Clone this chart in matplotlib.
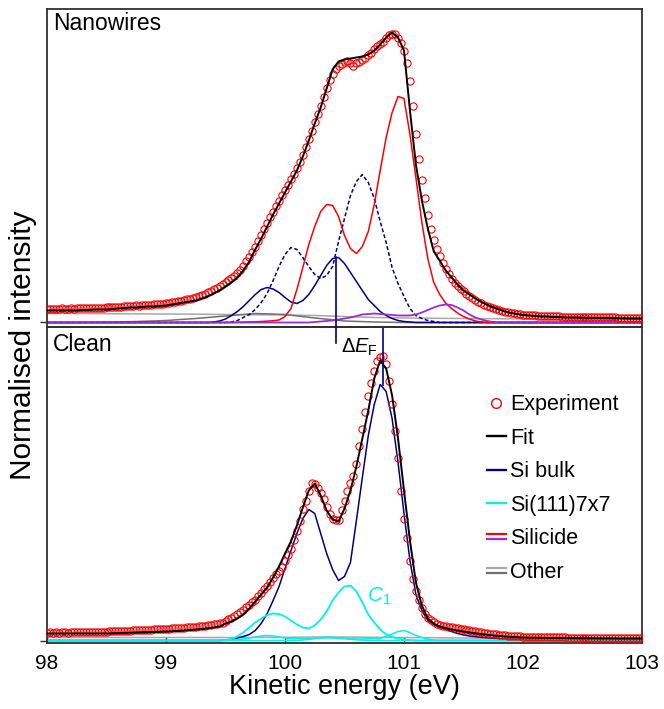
import numpy as np
import matplotlib
matplotlib.use("Agg")
import matplotlib.pyplot as plt
from matplotlib.lines import Line2D
from matplotlib.legend_handler import HandlerBase

plt.rcParams['font.family'] = ['Liberation Sans', 'DejaVu Sans']
plt.rcParams['mathtext.fontset'] = 'custom'
plt.rcParams['mathtext.rm'] = 'Liberation Sans'
plt.rcParams['mathtext.it'] = 'Liberation Sans:italic'

# --- data (intensities in arbitrary units, baseline = 0) ---
# experiment sampled every 0.025 eV from 98 to 103 eV
nw_experiment = [
    13.5, 13.8, 13.6, 13.9, 13.7, 14.0, 13.8, 13.9, 14.1, 13.9, 14.2, 14.0, 14.3, 14.1, 14.4, 14.6, 14.4, 14.7, 14.9, 14.8,
    15.0, 15.3, 15.2, 15.6, 15.8, 15.7, 16.1, 16.4, 16.2, 16.7, 17.0, 16.9, 17.3, 17.6, 17.5, 17.9, 18.2, 18.1, 18.5, 18.8,
    19.0, 19.5, 20.0, 20.6, 21.2, 21.8, 22.4, 23.0, 23.8, 24.6, 25.5, 26.4, 27.5, 28.6, 30.0, 31.5, 33.0, 34.6, 36.4, 38.0,
    40.0, 42.0, 44.0, 46.5, 49.0, 52.5, 56.5, 61.0, 65.0, 70.0, 75.5, 81.0, 87.0, 93.0, 99.0, 105.0, 110.5, 116.0, 121.5, 127.0,
    132, 137.5, 143, 148, 154, 160, 167, 175, 183, 191.5, 200, 208, 216.5, 225, 234, 242, 248, 253, 257, 259,
    261, 262, 260, 257, 260, 261, 263, 265, 268, 270, 274, 277, 279, 281, 285, 288, 289, 289, 285, 280,
    272, 260, 241, 216, 188, 163, 142, 124, 107, 93, 82, 73, 66, 59, 53, 48, 43, 39, 36, 33,
    31, 28, 26, 24, 22, 20, 19, 17, 16, 15, 14, 13, 12, 11.2, 10.6, 10, 9.5, 9, 8.6, 8.2,
    7.9, 7.6, 7.4, 7.2, 7.0, 6.8, 6.7, 6.5, 6.4, 6.3, 6.2, 6.1, 6.0, 5.9, 5.8, 5.8, 5.7, 5.6, 5.6, 5.5,
    5.5, 5.4, 5.4, 5.3, 5.3, 5.2, 5.2, 5.1, 5.1, 5.0, 5.0, 5.0, 4.9, 4.9, 4.9, 4.8, 4.8, 4.8, 4.7, 4.7, 4.7,
]
clean_experiment = [
    8.0, 8.1, 7.9, 8.2, 8.0, 8.1, 8.3, 8.0, 8.2, 8.4, 8.1, 8.3, 8.5, 8.2, 8.4, 8.6, 8.4, 8.7, 8.9, 8.7,
    9.0, 9.2, 9.1, 9.4, 9.6, 9.5, 9.8, 10.0, 9.9, 10.2, 10.4, 10.3, 10.6, 10.8, 10.7, 11.0, 11.2, 11.1, 11.4, 11.6,
    11.8, 12.0, 12.1, 12.4, 12.6, 12.8, 13.0, 13.3, 13.5, 13.8, 14.0, 14.3, 14.6, 14.9, 15.3, 15.7, 16.1, 16.6, 17.1, 17.7,
    20, 21.5, 23, 25, 27, 29, 31, 33.5, 36, 38.5, 41, 44.5, 48, 51.5, 55, 59, 63, 66.5, 70, 74,
    80, 86, 92, 101, 110, 120, 132, 140, 150, 158, 157, 153, 148, 142, 134, 127, 122, 121, 121, 131,
    140, 150, 158, 165, 177, 195, 212, 229, 245, 258, 270, 280, 284, 285, 277, 260, 237, 210, 183, 150,
    122, 103, 80, 62, 50, 41, 33, 27, 23, 21, 19, 17, 16, 15, 14.5, 14, 13.5, 13, 12.5, 12,
    11.5, 11, 10.5, 10, 9.5, 9, 8.5, 8, 7.5, 7, 6.7, 6.3, 6, 5.6, 5.3, 5, 4.8, 4.6, 4.4, 4.2,
    4.0, 3.9, 3.8, 3.7, 3.6, 3.5, 3.5, 3.4, 3.4, 3.3, 3.3, 3.2, 3.2, 3.1, 3.1, 3.0, 3.0, 3.0, 2.9, 2.9,
    2.9, 2.8, 2.8, 2.8, 2.8, 2.7, 2.7, 2.7, 2.7, 2.6, 2.6, 2.6, 2.6, 2.6, 2.5, 2.5, 2.5, 2.5, 2.5, 2.5, 2.5,
]

# fits sampled every 0.05 eV from 98 to 103 eV
nw_fit = [
    12, 12, 12, 12, 12, 12, 12.5, 12.5, 13, 13,
    13, 13.5, 14, 14.5, 15, 15, 15.5, 16, 16, 16.5,
    17, 18, 19, 20, 21, 22, 24, 26, 29, 32,
    36, 40, 45, 52, 61, 73, 84, 96, 108, 119,
    130, 141, 152, 166, 182, 199, 215, 234, 253, 261,
    263, 264, 265, 266, 268, 272, 278, 285, 290, 285,
    272, 212, 158, 122, 94, 71, 62, 52, 45, 38,
    32, 28, 24, 20.5, 17.5, 15, 13, 11, 9.5, 8.5,
    7.5, 7, 6.5, 6, 6, 5.5, 5.5, 5, 5, 5,
    4.8, 4.7, 4.6, 4.5, 4.4, 4.3, 4.2, 4.1, 4.0, 4.0, 4.0,
]
clean_fit = [
    7, 7, 7, 7, 7, 7, 7, 7, 7, 7,
    7, 7.2, 7.4, 7.6, 7.8, 8, 8.2, 8.4, 8.6, 8.8,
    9, 9.3, 9.6, 10, 10.5, 11, 11.5, 12.2, 13, 14,
    17, 19, 22, 26, 32, 39, 46, 53, 63, 74,
    87, 99, 115, 133, 150, 157, 145, 130, 121, 119,
    132, 150, 174, 202, 230, 262, 280, 272, 245, 202,
    150, 100, 58, 35, 22, 17, 14, 12.5, 11, 10,
    9, 8, 7.2, 6.4, 5.7, 5, 4.5, 4, 3.6, 3.3,
    3.0, 2.9, 2.8, 2.7, 2.6, 2.5, 2.4, 2.4, 2.3, 2.3,
    2.2, 2.2, 2.2, 2.1, 2.1, 2.1, 2.0, 2.0, 2.0, 2.0, 2.0,
]

# fit components on the 0.05 eV grid, (start energy, values), zero elsewhere
nw_si_bulk_a = (99.40, [0.5, 1.5, 3.5, 7, 11, 16, 22, 28, 33, 35, 33.5, 30, 25, 20.5, 19, 22, 28, 37, 47, 57,
                        64, 65, 59, 50, 41, 32, 23, 17, 11, 7, 4, 2, 1, 0.5])
nw_si_bulk_b = (99.50, [0, 0.5, 2, 5, 8, 13, 20, 29, 42, 56, 68, 75, 73, 65, 56, 48, 44, 47, 56, 81,
                        104, 127, 141, 148, 140, 124, 101, 80, 55, 39, 26, 14, 7, 4, 2, 1, 0])
nw_silicide_a = (99.60, [0.2, 0.4, 0.6, 0.8, 1, 1.3, 1.8, 2.5, 6, 14, 33, 55, 78, 96, 111, 118, 117, 106, 87, 74,
                         69, 76, 91, 118, 152, 185, 210, 226, 224, 188, 145, 100, 64, 40, 28, 19.5, 14, 9.5, 6, 3.5,
                         1.5, 0.5])
nw_silicide_b = (100.20, [0, 0.5, 1, 1.5, 2, 3, 4, 5, 6.5, 8, 8.5, 9, 8.5, 8, 7.5, 7, 7, 7, 8, 10,
                          12.5, 15, 17, 18, 17.5, 15, 12, 8, 5, 3, 1.5, 0.5, 0])

clean_si_bulk = (99.50, [0.5, 1, 2.5, 4, 6, 10, 17, 27, 40, 54, 72, 90, 107, 122, 131, 127, 107, 87, 71, 60,
                         64, 78, 120, 163, 205, 236, 256, 249, 222, 178, 127, 80, 46, 30, 20, 16, 13, 11, 9, 7,
                         5.5, 4.5, 3.8, 3.2, 2.7, 2.2, 1.8, 1.5, 1.2, 1.0, 0.8, 0.6, 0.5, 0.4, 0.3])
clean_c1 = (99.50, [0.5, 1.5, 4, 8, 13, 18, 22, 25.5, 27, 26.5, 24, 20, 16, 13, 12, 15, 21, 29, 40, 48,
                    54, 55, 49, 38, 26, 18, 11, 6, 3.5, 2, 1, 0.5])
clean_s2 = (99.50, [0, 0.3, 0.8, 1.5, 2.5, 3.5, 4.5, 5, 4.5, 3.5, 2.5, 2, 1.8, 1.8, 2, 2.3, 2.5, 2.6, 2.5, 2.2,
                    1.7, 1.2, 0.7, 0.4, 0.2, 0])
clean_s3 = (100.10, [0, 0.5, 1, 2, 2.8, 3.2, 3.2, 2.8, 2.2, 1.8, 1.5, 1.5, 1.8, 2.2, 2, 4, 6.5, 9, 10, 8,
                     5, 3, 1.5, 0.5, 0])

# broad background ("Other") sampled every 0.25 eV from 98 to 103 eV
nw_other_a = [9, 9, 8.8, 8.6, 8.5, 8.3, 8, 7.8, 7.5, 7, 6, 5, 4.5, 4.2, 4, 3.8, 3.6, 3.4, 3.2, 3.1, 3]
nw_other_b = [0, 0, 0.3, 1, 2, 4, 6.5, 9, 8, 4.5, 1.5, 0.5, 0, 0, 0, 0, 0, 0, 0, 0, 0]
clean_other = [3, 3, 3, 3, 3, 3, 3, 3, 3.2, 3.5, 3.5, 3.2, 3, 2.8, 2.5, 2.2, 2, 1.8, 1.7, 1.6, 1.5]

# Fermi-level shift markers (eV)
ef_nanowires = 100.43
ef_clean = 100.82

energy_exp = 98 + 0.025 * np.arange(len(nw_experiment))
energy_fit = 98 + 0.05 * np.arange(len(nw_fit))
energy_bg = 98 + 0.25 * np.arange(len(nw_other_a))


def on_grid(comp):
    """Place a (start, values) component on the full 0.05 eV grid."""
    start, vals = comp
    out = np.zeros(len(energy_fit))
    i0 = int(round((start - 98) / 0.05))
    out[i0:i0 + len(vals)] = vals
    return out


NAVY = '#000080'
RED = '#FF0000'
PURPLE = '#9A2BD6'
CYAN = '#00F0F0'
GREY_L = '#A8A8A8'
GREY_D = '#707070'


class HandlerDoubleLine(HandlerBase):
    """Legend handle with two stacked short lines."""
    def __init__(self, upper, lower, gap=1.8):
        super().__init__()
        self.upper, self.lower, self.gap = upper, lower, gap

    def create_artists(self, legend, orig_handle, xdescent, ydescent, width, height, fontsize, trans):
        y = (height - ydescent) / 2
        x0, x1 = -xdescent, width - xdescent
        a = Line2D([x0, x1], [y + self.gap, y + self.gap], color=self.upper, lw=1.6, transform=trans)
        b = Line2D([x0, x1], [y - self.gap, y - self.gap], color=self.lower, lw=1.6, transform=trans)
        return [a, b]


fig = plt.figure(figsize=(6.64, 7.09), dpi=100)
left, right = 47 / 664, 642 / 664
ax_top = fig.add_axes([left, 1 - 327 / 709, right - left, 318 / 709])
ax_bot = fig.add_axes([left, 1 - 643 / 709, right - left, 316 / 709], sharex=ax_top)
# top panel drawn above the lower one so its marker line can cross the divider
ax_top.set_zorder(3)
ax_top.patch.set_visible(False)

lw_c = 1.1
# Nanowires
ax_top.plot(energy_bg, nw_other_a, color=GREY_L, lw=lw_c, zorder=2)
ax_top.plot(energy_bg, nw_other_b, color=GREY_D, lw=lw_c, zorder=2)
ax_top.plot(energy_fit, on_grid(nw_si_bulk_a), color=NAVY, lw=lw_c, zorder=2)
ax_top.plot(energy_fit, on_grid(nw_si_bulk_b), color=NAVY, lw=lw_c, ls=(0, (2.5, 1.5)), zorder=2)
ax_top.plot(energy_fit, on_grid(nw_silicide_a), color=RED, lw=lw_c, zorder=2)
ax_top.plot(energy_fit, on_grid(nw_silicide_b), color=PURPLE, lw=1.3, zorder=2.5)
ax_top.plot(energy_exp, nw_experiment, ls='none', marker='o', ms=5.2, mfc='none', mec=RED, mew=0.8, zorder=3)
ax_top.plot(energy_fit, nw_fit, color='black', lw=1.4, zorder=4)
ax_top.plot([ef_nanowires, ef_nanowires], [-21, max(nw_si_bulk_a[1])], color=NAVY, lw=1.2,
            clip_on=False, zorder=5)

# Clean
ax_bot.plot(energy_bg, clean_other, color=GREY_L, lw=lw_c, zorder=2)
ax_bot.plot(energy_fit, on_grid(clean_si_bulk), color=NAVY, lw=lw_c, zorder=2)
ax_bot.plot(energy_fit, on_grid(clean_s2), color=CYAN, lw=lw_c, zorder=2.5)
ax_bot.plot(energy_fit, on_grid(clean_s3), color=CYAN, lw=lw_c, zorder=2.5)
ax_bot.plot(energy_fit, on_grid(clean_c1), color=CYAN, lw=1.3, zorder=2.5)
ax_bot.plot(energy_exp, clean_experiment, ls='none', marker='o', ms=5.2, mfc='none', mec=RED, mew=0.8, zorder=3)
ax_bot.plot(energy_fit, clean_fit, color='black', lw=1.4, zorder=4)
ax_bot.plot([ef_clean, ef_clean], [max(clean_si_bulk[1]), 313], color=NAVY, lw=1.2, zorder=5)

ax_bot.text(100.47, 293, r'$\Delta E_{\mathrm{F}}$', fontsize=14.5, ha='left', va='center')
ax_bot.text(100.69, 44, r'$C_1$', fontsize=15, color=CYAN, ha='left', va='center')

ax_top.text(0.01, 0.953, 'Nanowires', transform=ax_top.transAxes, fontsize=16.5, ha='left', va='center')
ax_bot.text(0.01, 0.945, 'Clean', transform=ax_bot.transAxes, fontsize=16.5, ha='left', va='center')

# axes styling
ax_top.set_xlim(98, 103)
ax_top.set_ylim(-4.5, 313.5)
ax_bot.set_ylim(-2.5, 313.5)
for ax in (ax_top, ax_bot):
    for s in ax.spines.values():
        s.set_color('#303030')
        s.set_linewidth(1.3)
    ax.set_yticks([0])
    ax.set_yticklabels([])
    ax.tick_params(axis='y', direction='out', length=5, width=1, color='#303030')
ax_top.tick_params(axis='x', bottom=False, labelbottom=False)
ax_bot.set_xticks([98, 99, 100, 101, 102, 103])
ax_bot.tick_params(axis='x', direction='in', length=4, width=1, color='#303030', labelsize=15, pad=8)
ax_bot.set_xlabel('Kinetic energy (eV)', fontsize=19.5, labelpad=1)
fig.text(23 / 664, 1 - 345 / 709, 'Normalised intensity', rotation=90, fontsize=21.5,
         ha='center', va='center')

handles = [
    Line2D([], [], ls='none', marker='o', ms=7, mfc='none', mec=RED, mew=1),
    Line2D([], [], color='black', lw=1.7),
    Line2D([], [], color=NAVY, lw=1.7),
    Line2D([], [], color=CYAN, lw=1.7),
    Line2D([], [], color=RED),
    Line2D([], [], color=GREY_L),
]
labels = ['Experiment', 'Fit', 'Si bulk', 'Si(111)7x7', 'Silicide', 'Other']
ax_bot.legend(handles, labels, loc='upper left', bbox_to_anchor=(0.739, 0.787), frameon=False,
              fontsize=15.5, handlelength=0.9, handletextpad=0.2, labelspacing=0.58, borderpad=0,
              borderaxespad=0, numpoints=1,
              handler_map={handles[4]: HandlerDoubleLine(RED, PURPLE),
                           handles[5]: HandlerDoubleLine(GREY_L, GREY_D)})

fig.savefig('out.png', dpi=100, facecolor='white')
